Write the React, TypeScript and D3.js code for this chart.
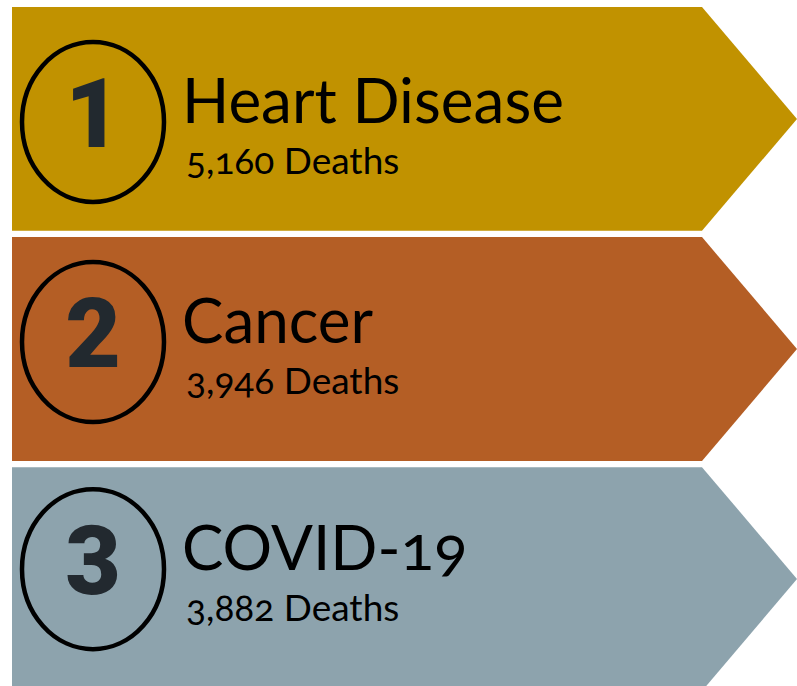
import React from 'react';
import * as d3 from 'd3';

// ranking of leading causes of death
const ranks = ['1', '2', '3'];
const causes = ['Heart Disease', 'Cancer', 'COVID-19'];
const deaths = [5160, 3946, 3882];
const colors = ['#C19200', '#B45E25', '#8DA3AD'];

const W = 797;
const H = 686;
// small per-banner vertical nudge of the content, as laid out in the original
const shift = [8, -2, -5];

const App = () => {
  const y = d3.scaleBand().domain(ranks).range([7, 691]).paddingInner(0.027);
  const left = 12;
  const bodyEnd = 702;
  const tip = W;
  const fmt = d3.format(',');

  const arrow = (top: number, h: number) => {
    const p = d3.path();
    p.moveTo(left, top);
    p.lineTo(bodyEnd, top);
    p.lineTo(tip, top + h / 2);
    p.lineTo(bodyEnd, top + h);
    p.lineTo(left, top + h);
    p.closePath();
    return p.toString();
  };

  return (
    <svg width={W} height={H} style={{ position: 'absolute', left: 0, top: 0, display: 'block' }}>
      {ranks.map((r, i) => {
        const top = y(r) as number;
        const h = y.bandwidth();
        const base = top + 107 + shift[i];
        return (
          <g key={r}>
            <path d={arrow(top, h)} fill={colors[i]} />
            <ellipse cx={93} cy={base} rx={71} ry={80} fill="none" stroke="#000" strokeWidth={4.5} />
            <text
              x={93}
              y={base + 25}
              textAnchor="middle"
              fontFamily="Roboto, 'DejaVu Sans', sans-serif"
              fontWeight={900}
              fontSize={96}
              fill="#22292F"
            >
              {r}
            </text>
            <text
              x={182}
              y={base + 1}
              fontFamily="Lato, 'Open Sans', sans-serif"
              fontSize={62}
              fill="#000"
              style={{ fontVariantNumeric: 'oldstyle-nums' }}
            >
              {causes[i]}
            </text>
            <text
              x={186}
              y={base + 52}
              fontFamily="Lato, 'Open Sans', sans-serif"
              fontSize={37}
              fill="#000"
              style={{ fontVariantNumeric: 'oldstyle-nums' }}
            >
              {fmt(deaths[i])} Deaths
            </text>
          </g>
        );
      })}
    </svg>
  );
};

export default App;
